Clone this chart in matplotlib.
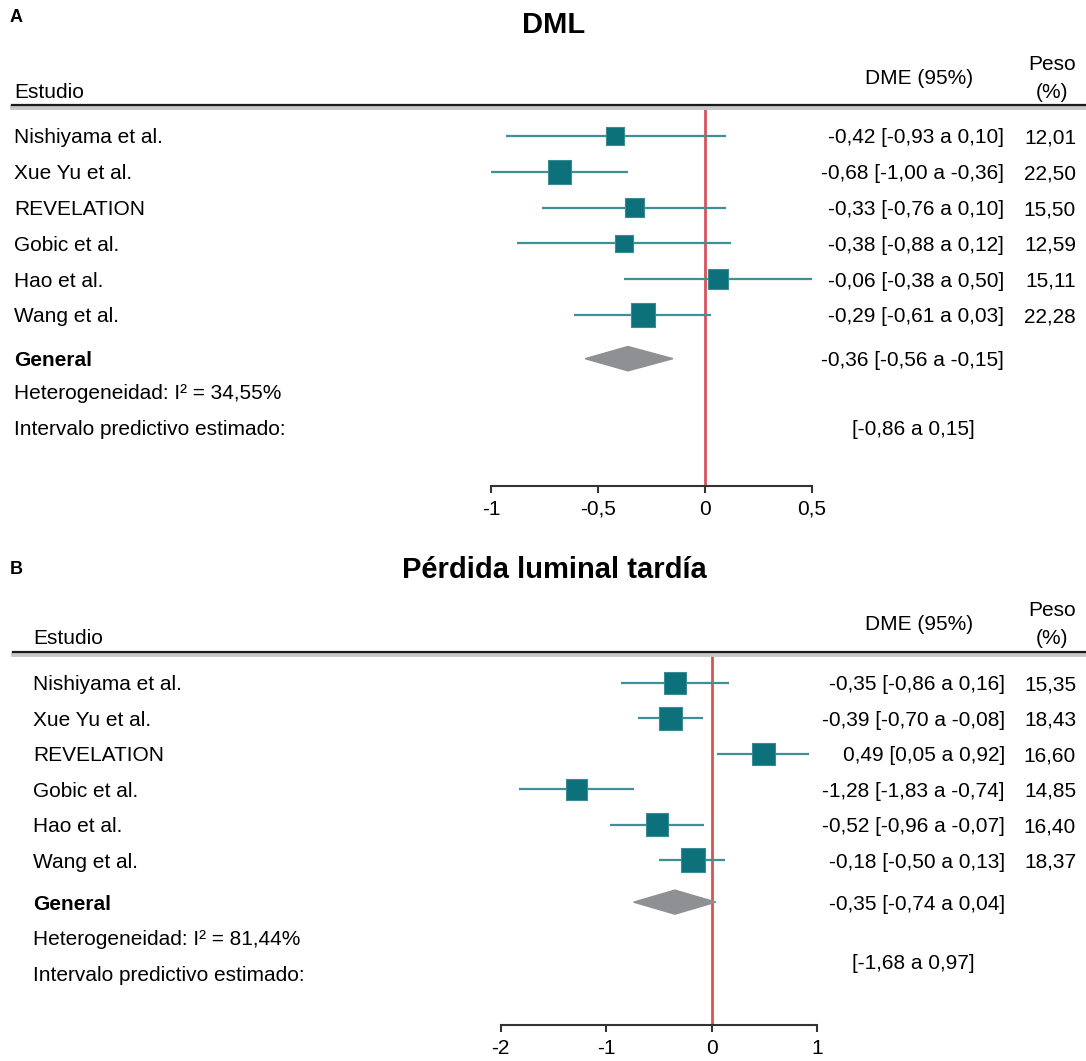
import matplotlib
matplotlib.use("Agg")
import matplotlib.pyplot as plt
from matplotlib.lines import Line2D
from matplotlib.patches import Polygon
from matplotlib.transforms import blended_transform_factory
import numpy as np

plt.rcParams['font.family'] = ['Liberation Sans', 'DejaVu Sans']

# ---------------- data ----------------
studies = ["Nishiyama et al.", "Xue Yu et al.", "REVELATION", "Gobic et al.", "Hao et al.", "Wang et al."]

# Panel A: DML
dml_est = [-0.42, -0.68, -0.33, -0.38, 0.06, -0.29]
dml_lo = [-0.93, -1.00, -0.76, -0.88, -0.38, -0.61]
dml_hi = [0.10, -0.36, 0.10, 0.12, 0.50, 0.03]
dml_ci_text = ["-0,42 [-0,93 a 0,10]", "-0,68 [-1,00 a -0,36]", "-0,33 [-0,76 a 0,10]",
               "-0,38 [-0,88 a 0,12]", "-0,06 [-0,38 a 0,50]", "-0,29 [-0,61 a 0,03]"]
dml_weight = ["12,01", "22,50", "15,50", "12,59", "15,11", "22,28"]
dml_overall = [-0.36, -0.56, -0.15]
dml_overall_text = "-0,36 [-0,56 a -0,15]"
dml_i2 = "34,55%"
dml_pred_text = "[-0,86 a 0,15]"
dml_ticks = [-1, -0.5, 0, 0.5]
dml_ticklabels = ["-1", "-0,5", "0", "0,5"]

# Panel B: Pérdida luminal tardía
plt_est = [-0.35, -0.39, 0.49, -1.28, -0.52, -0.18]
plt_lo = [-0.86, -0.70, 0.05, -1.83, -0.96, -0.50]
plt_hi = [0.16, -0.08, 0.92, -0.74, -0.07, 0.13]
plt_ci_text = ["-0,35 [-0,86 a 0,16]", "-0,39 [-0,70 a -0,08]", "0,49 [0,05 a 0,92]",
               "-1,28 [-1,83 a -0,74]", "-0,52 [-0,96 a -0,07]", "-0,18 [-0,50 a 0,13]"]
plt_weight = ["15,35", "18,43", "16,60", "14,85", "16,40", "18,37"]
plt_overall = [-0.35, -0.74, 0.04]
plt_overall_text = "-0,35 [-0,74 a 0,04]"
plt_i2 = "81,44%"
plt_pred_text = "[-1,68 a 0,97]"
plt_ticks = [-2, -1, 0, 1]
plt_ticklabels = ["-2", "-1", "0", "1"]

# ---------------- style ----------------
W, H = 1086, 1061
DPI = 100
SQ_COLOR = "#0c717a"
SQ_EDGE = "#3a8b93"
CI_COLOR = "#3e8f98"
DIA_COLOR = "#8f9093"
RED = "#d5545c"
FS = 15
VA = "center_baseline"

fig = plt.figure(figsize=(W / DPI, H / DPI), dpi=DPI)


def fx(px):
    return px / W


def fy(py):
    return 1 - py / H


def panel(letter, title, title_y, letter_y, header_y, axis_x0, axis_x1, axis_yb,
          row0_y, row_h, xlim, est, lo, hi, ci_text, weights, overall, overall_text,
          i2, pred_text, pred_row, ticks, ticklabels, name_x, ci_right, sq_scale,
          het_row, int_row, dia_row, line_x0):
    ax = fig.add_axes([fx(axis_x0), fy(axis_yb), (axis_x1 - axis_x0) / W,
                       (axis_yb - header_y) / H])
    ymax = (axis_yb - row0_y) / row_h
    ymin = (header_y - row0_y) / row_h
    ax.set_xlim(*xlim)
    ax.set_ylim(ymax, ymin)
    for s in ["top", "right", "left"]:
        ax.spines[s].set_visible(False)
    ax.spines["bottom"].set_color("#333333")
    ax.spines["bottom"].set_linewidth(1.5)
    ax.set_yticks([])
    ax.set_xticks(ticks)
    ax.set_xticklabels(ticklabels, fontsize=FS)
    ax.tick_params(axis="x", direction="out", length=5, width=1.5, color="#333333", pad=5)
    ax.patch.set_alpha(0)

    ax.axvline(0, color=RED, lw=2.0, zorder=1)

    rows = np.arange(len(est))
    ax.hlines(rows, lo, hi, color=CI_COLOR, lw=1.6, zorder=2, clip_on=False)
    side_px = sq_scale * np.sqrt(np.array([float(w.replace(",", ".")) for w in weights]))
    side_pt = side_px * 72 / DPI
    ax.scatter(est, rows, marker="s", s=side_pt ** 2, color=SQ_COLOR,
               edgecolors=SQ_EDGE, linewidths=0.8, zorder=3, clip_on=False)

    e, l, h = overall
    hh = 0.34
    ax.add_patch(Polygon([[l, dia_row], [e, dia_row - hh], [h, dia_row], [e, dia_row + hh]],
                         closed=True, color=DIA_COLOR, zorder=3, clip_on=False))

    tr = blended_transform_factory(fig.transFigure, ax.transData)
    for i, name in enumerate(studies):
        ax.text(fx(name_x), i, name, transform=tr, ha="left", va=VA, fontsize=FS)
        ax.text(fx(ci_right), i, ci_text[i], transform=tr, ha="right", va=VA, fontsize=FS)
        ax.text(fx(1076), i, weights[i], transform=tr, ha="right", va=VA, fontsize=FS)
    ax.text(fx(name_x), dia_row, "General", transform=tr, ha="left", va=VA,
            fontsize=FS, fontweight="bold")
    ax.text(fx(ci_right), dia_row, overall_text, transform=tr, ha="right", va=VA, fontsize=FS)
    ax.text(fx(name_x), het_row, "Heterogeneidad: I\u00b2 = " + i2, transform=tr,
            ha="left", va=VA, fontsize=FS)
    ax.text(fx(name_x), int_row, "Intervalo predictivo estimado:", transform=tr,
            ha="left", va=VA, fontsize=FS)
    ax.text(fx(913), pred_row, pred_text, transform=tr, ha="center", va=VA, fontsize=FS)

    fig.text(fx(10), fy(letter_y), letter, ha="left", va="center", fontsize=13, fontweight="bold")
    fig.text(fx(554), fy(title_y), title, ha="center", va="center", fontsize=21, fontweight="bold")
    fig.text(fx(name_x), fy(header_y - 15), "Estudio", ha="left", va=VA, fontsize=FS)
    fig.text(fx(919), fy(header_y - 29), "DME (95%)", ha="center", va=VA, fontsize=FS)
    fig.text(fx(1052), fy(header_y - 43), "Peso", ha="center", va=VA, fontsize=FS)
    fig.text(fx(1052), fy(header_y - 15), "(%)", ha="center", va=VA, fontsize=FS)
    fig.add_artist(Line2D([fx(line_x0), 1], [fy(header_y + 1.5), fy(header_y + 1.5)],
                          transform=fig.transFigure, color="#c8c8c8", lw=3.5))
    fig.add_artist(Line2D([fx(line_x0), 1], [fy(header_y), fy(header_y)],
                          transform=fig.transFigure, color="#1a1a1a", lw=1.6))
    return ax


panel("A", "DML", 25, 17, 105, 491, 812, 486, 136, 35.8, (-1, 0.5),
      dml_est, dml_lo, dml_hi, dml_ci_text, dml_weight, dml_overall, dml_overall_text,
      dml_i2, dml_pred_text, 8.13, dml_ticks, dml_ticklabels, 14, 1004, 5.0,
      7.15, 8.13, 6.22, 12)

panel("B", "Pérdida luminal tardía", 570, 570, 652, 500.7, 817.3, 1025, 683, 35.4, (-2, 1),
      plt_est, plt_lo, plt_hi, plt_ci_text, plt_weight, plt_overall, plt_overall_text,
      plt_i2, plt_pred_text, 7.88, plt_ticks, plt_ticklabels, 33, 1005, 5.5,
      7.2, 8.2, 6.19, 13)

fig.savefig("out.png", dpi=DPI)
